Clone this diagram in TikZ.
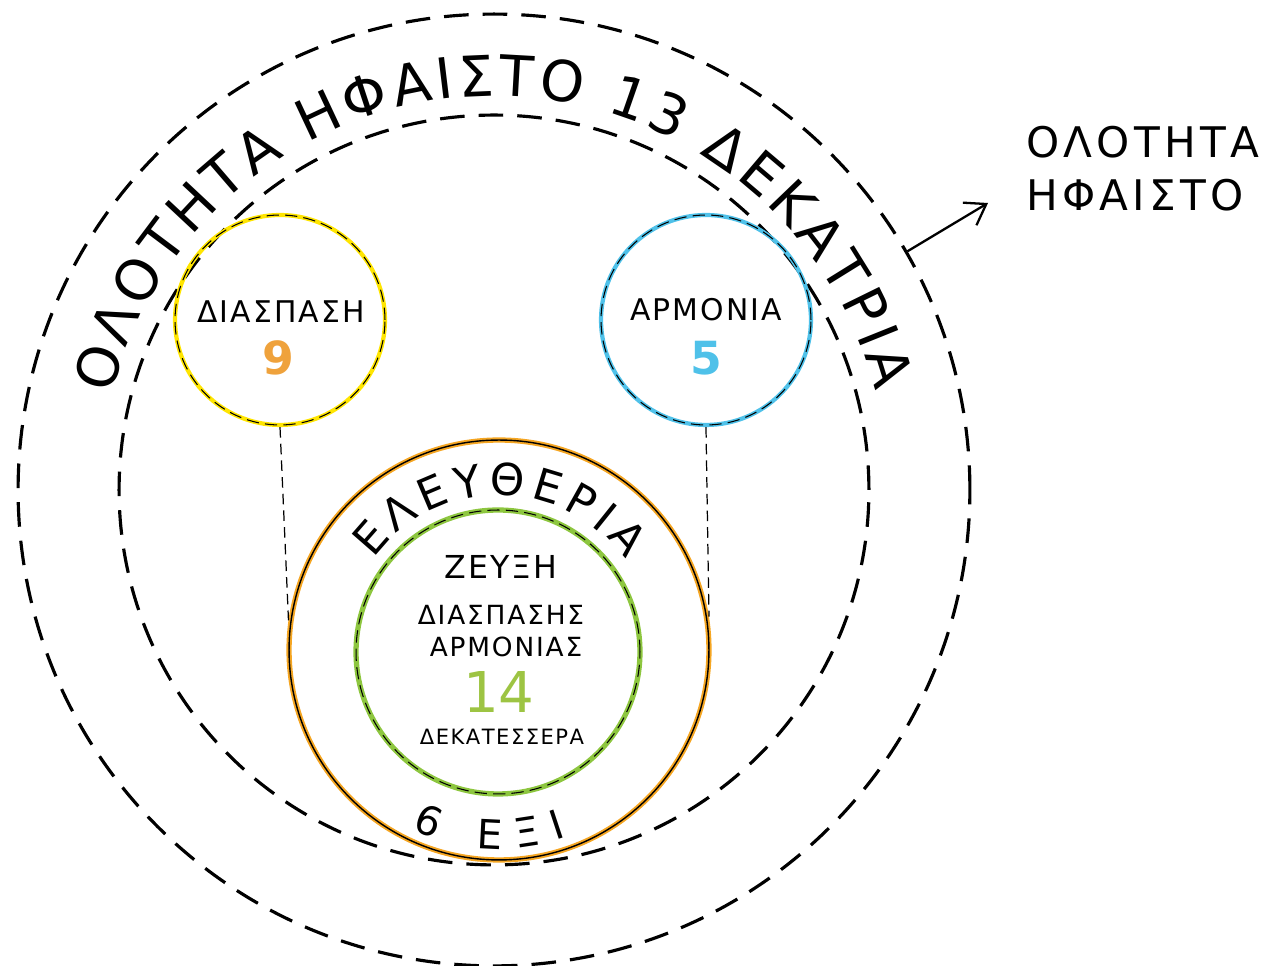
\documentclass[tikz,border=0pt]{standalone}
\usepackage{fontspec}
\setmainfont{DejaVu Sans}
\newfontfamily\lblfont[LetterSpace=7]{DejaVu Sans}
\newfontfamily\sidefont[LetterSpace=10]{DejaVu Sans}
\usetikzlibrary{decorations.text,arrows.meta}
\definecolor{yel}{HTML}{FFE500}
\definecolor{sky}{HTML}{4FC1E9}
\definecolor{orn}{HTML}{F5A623}
\definecolor{grn}{HTML}{8DC63F}
\definecolor{numorn}{HTML}{EFA23C}
\definecolor{numgrn}{HTML}{9DC443}

\begin{document}
\begin{tikzpicture}[x=0.02cm, y=0.02cm,
    ring/.style={circle, draw, inner sep=0pt, line width=1.8pt, dash pattern=on 14pt off 8pt},
    disc/.style={circle, inner sep=0pt, line width=2.4pt},
    blackdash/.style={postaction={draw=black, line width=0.6pt, dash pattern=on 7pt off 3.5pt}},
    link/.style={line width=0.7pt, dash pattern=on 6pt off 3.5pt},
    word/.style={inner sep=0pt, font=\lblfont\fontsize{17}{20}\selectfont},
    num/.style={inner sep=0pt, font=\bfseries\fontsize{26}{26}\selectfont}]
        \useasboundingbox (0,0) rectangle (1286,966);
        % Dashed rings and coloured circles
        \node[ring, minimum size=19.04cm] (1) at (494,476) {};
        \node[ring, minimum size=15cm] (2) at (494,476) {};
        \node[disc, draw=yel, blackdash, minimum size=4.2cm] (3) at (280,646) {};
        \node[disc, draw=sky, blackdash, minimum size=4.2cm] (4) at (706,646) {};
        \node[disc, draw=orn, line width=3pt, postaction={draw=black, line width=0.8pt, solid}, minimum size=8.4cm] (5) at (499,316) {};
        \node[disc, draw=grn, line width=3pt, blackdash, minimum size=5.68cm] (6) at (498,314) {};

        \node[word] (7) at (281,654) {ΔΙΑΣΠΑΣΗ};
        \node[num, text=numorn] (8) at (278,608) {9};
        \node[word] (9) at (706,656) {ΑΡΜΟΝΙΑ};
        \node[num, text=sky] (10) at (706,608) {5};

        \node[word, font=\lblfont\fontsize{18}{20}\selectfont] (11) at (501,399) {ΖΕΥΞΗ};
        \node[word, font=\lblfont\fontsize{15}{18}\selectfont] (12) at (501,351) {ΔΙΑΣΠΑΣΗΣ};
        \node[word, font=\lblfont\fontsize{15}{18}\selectfont] (13) at (506,319) {ΑΡΜΟΝΙΑΣ};
        \node[inner sep=0pt, text=numgrn, font=\fontsize{32}{32}\selectfont] (14) at (499,274) {14};
        \node[word, font=\lblfont\fontsize{12}{14}\selectfont] (15) at (502,229) {ΔΕΚΑΤΕΣΣΕΡΑ};

        \node[anchor=west, inner sep=0pt, align=left, font=\sidefont\fontsize{24}{30}\selectfont] (16) at (1026,797) {ΟΛΟΤΗΤΑ\\ΗΦΑΙΣΤΟ};
        \coordinate (17) at (988,763);

        % Text round the arcs
        \path[decorate, decoration={text along path, text align=fit to path,
            text={|\fontsize{32}{32}\selectfont|ΟΛΟΤΗΤΑ ΗΦΑΙΣΤΟ 13 ΔΕΚΑΤΡΙΑ}}]
            ([shift={(166:394)}]1.center) arc[start angle=166, end angle=14.5, radius=394];
        \path[decorate, decoration={text along path, text align=fit to path,
            text={|\fontsize{25}{25}\selectfont|ΕΛΕΥΘΕΡΙΑ}}]
            ([shift={(144:155)}]5.center) arc[start angle=144, end angle=35.5, radius=155];
        \path[decorate, decoration={text along path, text align=fit to path,
            text={|\fontsize{23}{23}\selectfont|6 ΕΞΙ}}]
            ([shift={(244:199)}]5.center) arc[start angle=244, end angle=290, radius=199];

        \draw[link] (3.south) -- (5.172);
        \draw[link] (4.south) -- (5.9);
        \draw[-{Straight Barb[length=11pt,width=15pt]}, line width=1.3pt] (1.30) -- (17);
    \end{tikzpicture}
\end{document}
